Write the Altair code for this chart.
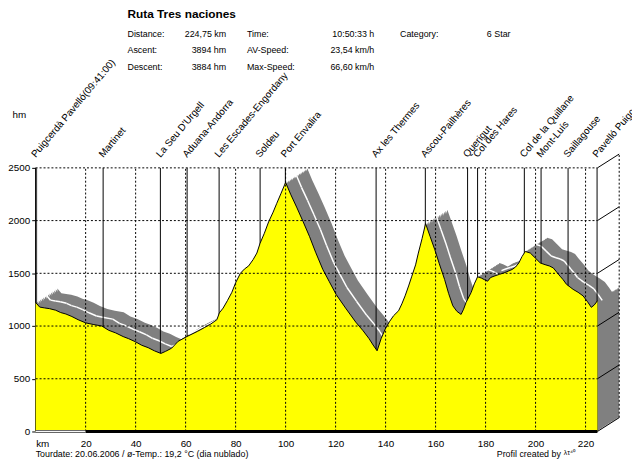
import altair as alt
import pandas as pd

FONT = "Liberation Sans"

# ---------------- data ----------------
km = [0, 1.6, 3.5, 5.5, 8.0, 10.0, 12.1, 14.5, 17.0, 20.0, 23.0, 26.5, 29.2, 32.0, 35.0, 37.2,
      40.0, 42.4, 45.0, 47.5, 50.1, 52.0, 54.4, 57.0, 60.5, 64.8, 67.5, 70.1, 72.5, 73.5, 75.0,
      76.7, 78.5, 80.0, 81.9, 83.5, 85.2, 87.0, 88.5, 89.8, 91.5, 93.2, 95.0, 96.4, 98.2, 100.0,
      102.0, 104.4, 107.0, 109.6, 112.0, 114.9, 117.5, 120.2, 124.0, 128.1, 131.0, 133.4, 135.0,
      136.6, 138.2, 139.9, 141.5, 143.2, 145.2, 146.5, 147.8, 149.2, 150.5, 152.0, 153.1, 154.6,
      156.0, 157.8, 159.7, 161.5, 163.6, 165.2, 166.9, 168.5, 170.2, 171.2, 172.2, 174.2, 175.5,
      176.8, 178.3, 179.5, 180.8, 182.0, 183.4, 185.5, 187.4, 189.0, 190.6, 192.0, 193.3, 194.6,
      195.9, 197.9, 199.9, 201.9, 203.8, 205.5, 207.1, 208.5, 209.8, 211.0, 212.4, 213.8, 215.0,
      217.0, 219.0, 220.8, 222.3, 223.5, 224.75]
elev = [1224, 1180, 1172, 1165, 1150, 1128, 1114, 1090, 1060, 1030, 1015, 1000, 960, 935, 900, 880,
        850, 818, 795, 765, 740, 760, 790, 855, 900, 950, 985, 1020, 1060, 1125, 1170,
        1240, 1320, 1410, 1500, 1540, 1570, 1630, 1692, 1786, 1880, 1988, 2080, 2160, 2260, 2362,
        2250, 2128, 1990, 1847, 1700, 1536, 1420, 1300, 1170, 1036, 955, 880, 820,
        765, 880, 974, 1040, 1098, 1145, 1210, 1286, 1380, 1473, 1580, 1692, 1830,
        1972, 1850, 1723, 1590, 1442, 1310, 1192, 1140, 1110, 1160, 1224, 1317, 1400,
        1467, 1455, 1440, 1425, 1460, 1473, 1490, 1504, 1520, 1536, 1560, 1598, 1660,
        1707, 1692, 1645, 1598, 1582, 1570, 1551, 1510, 1473, 1440, 1395, 1370, 1348,
        1320, 1286, 1230, 1177, 1200, 1240]

wp_names = ["Puigcerdà Pavelló(09:41:00)", "Martinet", "La Seu D'Urgell", "Aduana-Andorra",
            "Les Escades-Engordany", "Soldeu", "Port Envalira", "Ax les Thermes",
            "Ascou-Pailhères", "Querigut", "Col des Hares", "Col de la Quillane",
            "Mont-Luís", "Saillagouse", "Pavelló Puigcerdà"]
wp_km = [0, 27.0, 49.9, 60.6, 73.4, 89.8, 99.9, 136.2, 155.9, 172.8, 176.8, 195.5, 202.2, 213.0, 224.6]

y_levels = [500, 1000, 1500, 2000, 2500]
wall_levels = [0, 500, 1000, 1500, 2000, 2500]
x_ticks = [20, 40, 60, 80, 100, 120, 140, 160, 180, 200, 220]
x_label_values = [0] + x_ticks

title_text = "Ruta Tres naciones"
stat_labels_1 = ["Distance:", "Ascent:", "Descent:"]
stat_values_1 = ["224,75 km", "3894 hm", "3884 hm"]
stat_labels_2 = ["Time:", "AV-Speed:", "Max-Speed:"]
stat_values_2 = ["10:50:33 h", "23,54 km/h", "66,60 km/h"]
stat_labels_3 = ["Category:"]
stat_values_3 = ["6 Star"]
footer_left = "Tourdate: 20.06.2006  /  ø-Temp.: 19,2 °C   (dia nublado)"
footer_right = "Profil created by"
footer_logo = "λτ⁴⁰"

# ---------------- geometry / style ----------------
TOTAL = 224.75
YMAX = 2500
DX = 8.7    # 3D depth, km
DY = 131    # 3D depth, m
W, H = 569, 267
LABEL_LIFT = 10 * YMAX / H   # 10 px above the top of the plot, in metres

xs = alt.Scale(domain=[0, TOTAL], nice=False, zero=False)
ys = alt.Scale(domain=[0, YMAX], nice=False, zero=False)


def XD(v):
    return alt.XDatum(v, scale=xs)


def YD(v):
    return alt.YDatum(v, scale=ys)


prof = pd.DataFrame({"km": km, "elev": elev})
steps = pd.DataFrame({"t": [i / 14 for i in range(1, 15)]})
band_df = prof.merge(steps, how="cross")
seg_df = pd.DataFrame({"km": km[:-1], "km2": km[1:], "elev": elev[:-1], "elev2": elev[1:]})
wp_df = pd.DataFrame({"name": wp_names, "km": wp_km})

# yellow profile (carries the axes)
profile = alt.Chart(prof).mark_area(
    color="#ffff00", opacity=1, interpolate="linear",
    line={"color": "black", "strokeWidth": 1},
).encode(
    x=alt.X("km:Q", scale=xs, axis=alt.Axis(
        values=x_label_values, format="d",
        labelExpr="datum.value == 0 ? 'km' : datum.label",
        grid=False, domain=False, ticks=False, labelPadding=7, title=None,
        labelFontSize=10, labelColor="black", labelFont=FONT)),
    y=alt.Y("elev:Q", scale=ys, axis=alt.Axis(
        values=[0] + y_levels, format="d", grid=False, domain=True, domainColor="#555555",
        domainWidth=2, ticks=True, tickSize=4, tickColor="black", labelPadding=2,
        labelFontSize=10, labelColor="black", labelFont=FONT,
        title="hm", titleAngle=0, titleX=-17, titleY=-54, titleAlign="center",
        titleBaseline="middle", titleFontSize=10, titleFontWeight="normal",
        titleFont=FONT, titleColor="black")),
)

# gray 3D ribbon (union of shifted copies)
band = alt.Chart(band_df).transform_calculate(
    bx=f"datum.km + datum.t*{DX}",
    by=f"datum.elev + datum.t*{DY}",
    bb=f"datum.t*{DY}",
).mark_area(color="#808080", opacity=1, interpolate="linear").encode(
    x=alt.X("bx:Q", scale=xs),
    y=alt.Y("by:Q", scale=ys),
    y2="bb:Q",
    detail="t:N",
)

# white center line on visible (non-steep-ascending) parts of the ribbon
white = alt.Chart(seg_df).transform_calculate(
    slope="(datum.elev2 - datum.elev) / (datum.km2 - datum.km)"
).transform_filter("datum.slope < 14").transform_calculate(
    ax=f"datum.km + {DX/2}", ax2=f"datum.km2 + {DX/2}",
    ay=f"datum.elev + {DY/2}", ay2=f"datum.elev2 + {DY/2}",
).mark_rule(color="white", strokeWidth=1.5).encode(
    x=alt.X("ax:Q", scale=xs), x2="ax2:Q",
    y=alt.Y("ay:Q", scale=ys), y2="ay2:Q",
)

# waypoint vertical lines
wp_lines = alt.Chart(wp_df).mark_rule(color="black", strokeWidth=1).encode(
    x=alt.X("km:Q", scale=xs),
    y=YD(YMAX), y2=alt.datum(0),
)

# dashed grid
hgrid = alt.Chart(pd.DataFrame({"lvl": y_levels})).mark_rule(
    color="black", strokeWidth=1, strokeDash=[2, 2]).encode(
    y=alt.Y("lvl:Q", scale=ys), x=XD(0), x2=alt.datum(TOTAL))
vgrid = alt.Chart(pd.DataFrame({"tk": x_ticks})).mark_rule(
    color="black", strokeWidth=1, strokeDash=[2, 2]).encode(
    x=alt.X("tk:Q", scale=xs), y=YD(0), y2=alt.datum(YMAX))

# right wall of the 3D box
wall = alt.Chart(pd.DataFrame({"lvl": wall_levels})).transform_calculate(
    lvl2=f"datum.lvl + {DY}").mark_rule(color="black", strokeWidth=1).encode(
    x=XD(TOTAL), x2=alt.datum(TOTAL + DX),
    y=alt.Y("lvl:Q", scale=ys), y2="lvl2:Q")
wall_v = alt.Chart(pd.DataFrame({"lvl": [0]})).mark_rule(
    color="black", strokeWidth=1, strokeDash=[2, 2]).encode(
    x=XD(TOTAL + DX), y=YD(DY), y2=alt.datum(YMAX + DY))

# bottom distance bar
bar_black = alt.Chart(pd.DataFrame({"a": [x_ticks[0]]})).mark_rule(
    color="black", strokeWidth=3).encode(
    x=alt.X("a:Q", scale=xs), x2=alt.datum(TOTAL), y=YD(0))
bar_white_o = alt.Chart(pd.DataFrame({"a": [0]})).mark_rule(
    color="#666666", strokeWidth=3).encode(
    x=alt.X("a:Q", scale=xs), x2=alt.datum(x_ticks[0]), y=YD(0))
bar_white_i = alt.Chart(pd.DataFrame({"a": [0]})).mark_rule(
    color="white", strokeWidth=1).encode(
    x=alt.X("a:Q", scale=xs), x2=alt.datum(x_ticks[0]), y=YD(0))

# rotated waypoint labels
wp_labels = alt.Chart(wp_df).mark_text(
    angle=310, align="left", baseline="alphabetic",
    fontSize=10, font=FONT, color="black").encode(
    x=alt.X("km:Q", scale=xs), y=YD(YMAX + LABEL_LIFT), text="name:N")


# header / footer texts (pixel positions relative to plot origin at image (36,167))
def txt(s, x, y, align="left", size=9, weight="normal"):
    return alt.Chart(pd.DataFrame({"s": [s]})).mark_text(
        align=align, baseline="middle", fontSize=size, fontWeight=weight,
        font=FONT, color="black").encode(text="s:N", x=alt.value(x), y=alt.value(y))


OX, OY = 36, 167
texts = [txt(title_text, 129 - OX, 11 - OY, size=12, weight="bold")]
row_y = [31, 48, 65]
for i, s in enumerate(stat_labels_1):
    texts.append(txt(s, 129 - OX, row_y[i] - OY))
for i, s in enumerate(stat_values_1):
    texts.append(txt(s, 229 - OX, row_y[i] - OY, align="right"))
for i, s in enumerate(stat_labels_2):
    texts.append(txt(s, 250 - OX, row_y[i] - OY))
for i, s in enumerate(stat_values_2):
    texts.append(txt(s, 379 - OX, row_y[i] - OY, align="right"))
for i, s in enumerate(stat_labels_3):
    texts.append(txt(s, 405 - OX, row_y[i] - OY))
for i, s in enumerate(stat_values_3):
    texts.append(txt(s, 493 - OX, row_y[i] - OY))
texts.append(txt(footer_left, 36 - OX, 457 - OY, size=9))
texts.append(txt(footer_right, 503 - OX, 457 - OY, size=9))
texts.append(txt(footer_logo, 571 - OX, 456 - OY, size=7))

chart = alt.layer(
    profile.mark_area(opacity=0), band, white, wp_lines, profile, hgrid, vgrid, wall, wall_v,
    bar_white_o, bar_white_i, bar_black, wp_labels, *texts
).properties(
    width=W, height=H,
    autosize=alt.AutoSizeParams(type="none"),
    padding={"left": 28, "top": 159, "right": 35, "bottom": 28},
    background="white",
).configure_view(stroke=None)

chart.save("out.html", embed_options={"renderer": "svg", "actions": False})
